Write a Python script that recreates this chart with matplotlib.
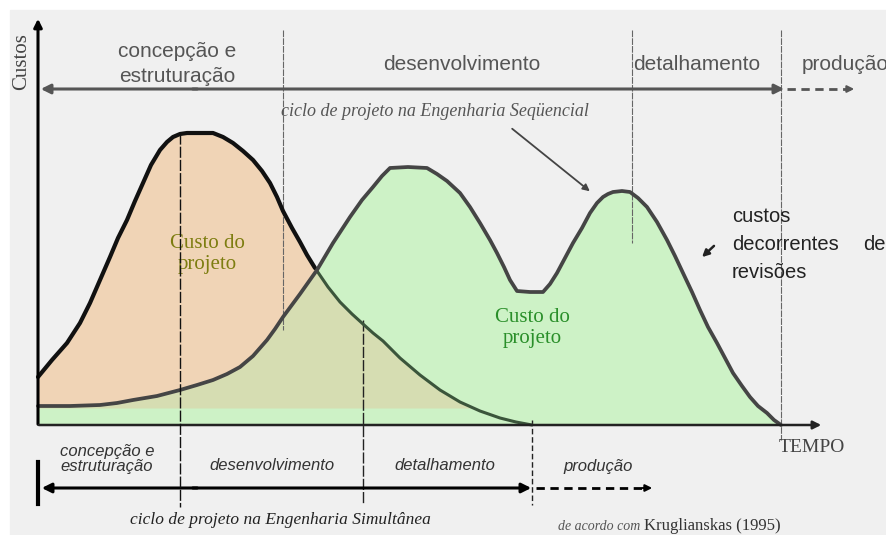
import numpy as np
import matplotlib.pyplot as plt

# curve points (pixel coords, y grows downward)
orange_x = [38, 52, 67, 80, 90, 100, 110, 118, 127, 135, 143, 151, 160, 167, 173, 180, 187, 200, 213,
            223, 233, 243, 253, 262, 270, 277, 283, 292, 300, 307, 315, 328, 340, 352, 363, 373, 383,
            392, 400, 420, 440, 460, 480, 500, 516, 532]
orange_y = [377, 360, 343, 323, 303, 280, 257, 238, 220, 201, 183, 165, 150, 142, 137, 134, 133, 133, 133,
            137, 143, 151, 160, 171, 183, 197, 211, 228, 242, 255, 268, 287, 302, 314, 324, 333, 341,
            350, 358, 375, 390, 402, 411, 418, 422, 425]

green_x = [38, 70, 100, 117, 133, 157, 180, 197, 213, 227, 240, 253, 267, 275, 283, 300, 317, 333, 350,
           362, 373, 382, 390, 408, 427, 437, 447, 460, 470, 480, 490, 497, 504, 510, 517, 530, 543, 550,
           557, 565, 573, 582, 590, 597, 603, 608, 613, 622, 630, 638, 647, 657, 667, 675, 683, 692, 700,
           708, 717, 725, 733, 742, 750, 758, 767, 774, 781]
green_y = [406, 406, 405, 403, 400, 396, 390, 385, 380, 374, 367, 356, 340, 329, 317, 294, 270, 243, 217,
           200, 187, 176, 168, 167, 168, 174, 181, 193, 207, 223, 240, 253, 267, 280, 291, 292, 292, 284,
           273, 258, 243, 228, 213, 203, 197, 194, 192, 191, 192, 198, 207, 222, 240, 256, 273, 292, 310,
           327, 343, 358, 373, 386, 397, 406, 413, 420, 425]

seq_phases = ['concepção e\nestruturação', 'desenvolvimento', 'detalhamento', 'produção']
sim_phases = ['concepção e\nestruturação', 'desenvolvimento', 'detalhamento', 'produção']

W, H = 887, 535
fig = plt.figure(figsize=(8.87, 5.35), dpi=100)
ax = fig.add_axes([0, 0, 1, 1])
ax.set_xlim(0, W)
ax.set_ylim(H, 0)
ax.axis('off')
fig.patch.set_facecolor('white')
ax.add_patch(plt.Rectangle((10, 10), W, H, color='#f0f0f0', zorder=0))

ox, oy = np.array(orange_x, float), np.array(orange_y, float)
gx, gy = np.array(green_x, float), np.array(green_y, float)

# fills
ax.fill_between(ox, oy, 408, color='#f0d4b6', lw=0, zorder=1)
ax.fill_between(gx, gy, 425, color='#cdf2c6', lw=0, zorder=1)
xs = np.linspace(38, 532, 600)
lower = np.maximum(np.interp(xs, ox, oy), np.interp(xs, gx, gy))
ax.fill_between(xs, lower, 408, where=lower < 408, color='#d6ddb2', lw=0, zorder=2)

# curves
cross = orange_x.index(315)
ax.plot(ox[:cross + 1], oy[:cross + 1], color='#111111', lw=3.0, zorder=5,
        solid_capstyle='round', solid_joinstyle='round')
ax.plot(ox[cross:], oy[cross:], color='#3b553b', lw=2.2, zorder=4,
        solid_capstyle='round', solid_joinstyle='round')
ax.plot(gx, gy, color='#454545', lw=2.7, zorder=5, solid_capstyle='round', solid_joinstyle='round')

# axes arrows
ax.annotate('', xy=(38, 16), xytext=(38, 427), zorder=6,
            arrowprops=dict(arrowstyle='-|>', color='black', lw=2.2, mutation_scale=12))
ax.annotate('', xy=(824, 425), xytext=(36, 425), zorder=6,
            arrowprops=dict(arrowstyle='-|>', color='#222222', lw=1.8, mutation_scale=12))

# phase separators
ax.plot([283, 283], [30, 330], color='#666666', lw=0.8, ls=(0, (6, 1)), zorder=3)
ax.plot([632, 632], [30, 243], color='#666666', lw=0.8, ls=(0, (6, 1)), zorder=3)
ax.plot([781, 781], [30, 440], color='#666666', lw=0.8, ls=(0, (6, 1)), zorder=3)
ax.plot([180, 180], [133, 507], color='#111111', lw=1.0, ls=(0, (8, 1.5)), zorder=6)
ax.plot([363, 363], [320, 503], color='#222222', lw=1.0, ls=(0, (8, 1.5)), zorder=3)
ax.plot([532, 532], [420, 505], color='#222222', lw=1.0, ls=(0, (4, 2)), zorder=3)

# sequential timeline
ax.annotate('', xy=(38, 89), xytext=(200, 89),
            arrowprops=dict(arrowstyle='-|>', color='#555555', lw=2.2, mutation_scale=14))
ax.annotate('', xy=(787, 89), xytext=(190, 89),
            arrowprops=dict(arrowstyle='-|>', color='#555555', lw=2.2, mutation_scale=14))
ax.plot([787, 850], [89, 89], color='#555555', lw=2.0, ls=(0, (3, 2)))
ax.annotate('', xy=(857, 89), xytext=(845, 89),
            arrowprops=dict(arrowstyle='-|>', color='#555555', lw=1.5, mutation_scale=10))

# simultaneous timeline
ax.plot([38, 38], [462, 504], color='black', lw=3.0)
ax.annotate('', xy=(39, 488), xytext=(200, 488),
            arrowprops=dict(arrowstyle='-|>', color='black', lw=2.2, mutation_scale=14))
ax.annotate('', xy=(534, 488), xytext=(190, 488),
            arrowprops=dict(arrowstyle='-|>', color='black', lw=2.2, mutation_scale=14))
ax.plot([536, 645], [488, 488], color='black', lw=2.0, ls=(0, (3, 2)))
ax.annotate('', xy=(655, 488), xytext=(640, 488),
            arrowprops=dict(arrowstyle='-|>', color='black', lw=1.5, mutation_scale=10))

# phase labels
sans = 'Liberation Sans'
serif = 'Liberation Serif'
seq_centers = [177, 462, 697, 845]
for name, cx in zip(seq_phases, seq_centers):
    ax.text(cx, 64, name, ha='center', va='center', fontsize=15, color='#555555',
            family=sans, linespacing=1.35)
sim_centers = [107, 272, 445, 598]
for name, cx in zip(sim_phases, sim_centers):
    ax.text(cx, 459 if '\n' in name else 466, name, ha='center', va='center', fontsize=12,
            color='#333333', family=sans, style='italic', linespacing=1.05)

ax.text(435, 112, 'ciclo de projeto na Engenharia Seqüencial', ha='center', va='center',
        fontsize=13, color='#555555', family=serif, style='italic')
ax.text(280, 520, 'ciclo de projeto na Engenharia Simultânea', ha='center', va='center',
        fontsize=12.5, color='#222222', family=serif, style='italic')
ax.annotate('', xy=(592, 193), xytext=(510, 127),
            arrowprops=dict(arrowstyle='-|>', color='#444444', lw=1.3, mutation_scale=10))

ax.text(22, 62, 'Custos', rotation=90, ha='center', va='center', fontsize=15,
        color='#444444', family=serif)
ax.text(812, 448, 'TEMPO', ha='center', va='center', fontsize=14, color='#444444', family=serif)

ax.text(207, 254, 'Custo do\nprojeto', ha='center', va='center', fontsize=15,
        color='#7d7d10', family=serif, linespacing=1.1)
ax.text(532, 328, 'Custo do\nprojeto', ha='center', va='center', fontsize=15,
        color='#2a8f2a', family=serif, linespacing=1.1)

ax.text(732, 217, 'custos', ha='left', va='center', fontsize=14.5, color='#222222', family=sans)
ax.text(732, 245, 'decorrentes', ha='left', va='center', fontsize=14.5, color='#222222', family=sans)
ax.text(886, 245, 'de', ha='right', va='center', fontsize=14.5, color='#222222', family=sans)
ax.text(732, 272, 'revisões', ha='left', va='center', fontsize=14.5, color='#222222', family=sans)
ax.annotate('', xy=(700, 259), xytext=(716, 244),
            arrowprops=dict(arrowstyle='-|>', color='#222222', lw=1.8, mutation_scale=10))

ax.text(640, 526, 'de acordo com', ha='right', va='center', fontsize=10, color='#555555',
        family=serif, style='italic')
ax.text(644, 526, 'Kruglianskas (1995)', ha='left', va='center', fontsize=12, color='#333333',
        family=serif)

fig.savefig('out.png', dpi=100)
